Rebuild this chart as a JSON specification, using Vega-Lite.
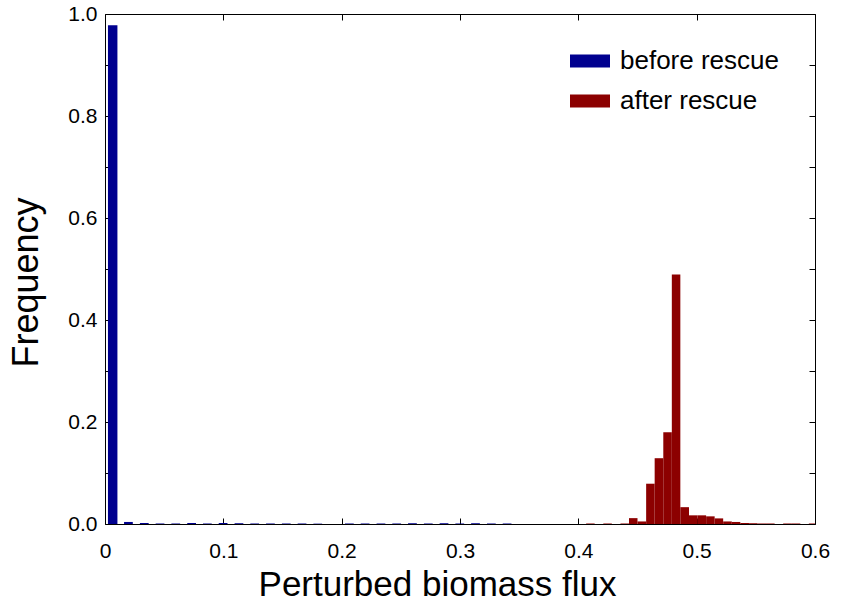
{
  "$schema": "https://vega.github.io/schema/vega-lite/v6.json",
  "autosize": {"type": "none"},
  "padding": {"left": 105, "top": 14, "right": 26, "bottom": 79},
  "width": 710,
  "height": 510,
  "background": "white",
  "config": {
    "font": "Liberation Sans",
    "view": {"stroke": "black", "strokeWidth": 1},
    "axis": {"grid": false, "domain": false, "tickColor": "black", "tickWidth": 1, "labelColor": "black", "titleColor": "black", "labelFont": "Liberation Sans", "titleFont": "Liberation Sans", "titleFontWeight": "normal"}
  },
  "data": {"values": [
    {"series": "before rescue", "bin_start": 0.0025, "bin_end": 0.0105, "freq": 0.978},
    {"series": "before rescue", "bin_start": 0.0161, "bin_end": 0.0235, "freq": 0.004},
    {"series": "before rescue", "bin_start": 0.0295, "bin_end": 0.0369, "freq": 0.002},
    {"series": "before rescue", "bin_start": 0.0428, "bin_end": 0.0502, "freq": 0.001},
    {"series": "before rescue", "bin_start": 0.0561, "bin_end": 0.0635, "freq": 0.001},
    {"series": "before rescue", "bin_start": 0.0695, "bin_end": 0.0769, "freq": 0.002},
    {"series": "before rescue", "bin_start": 0.0828, "bin_end": 0.0902, "freq": 0.001},
    {"series": "before rescue", "bin_start": 0.0961, "bin_end": 0.1035, "freq": 0.002},
    {"series": "before rescue", "bin_start": 0.1095, "bin_end": 0.1169, "freq": 0.0015},
    {"series": "before rescue", "bin_start": 0.1228, "bin_end": 0.1302, "freq": 0.001},
    {"series": "before rescue", "bin_start": 0.1361, "bin_end": 0.1435, "freq": 0.001},
    {"series": "before rescue", "bin_start": 0.1495, "bin_end": 0.1569, "freq": 0.001},
    {"series": "before rescue", "bin_start": 0.1628, "bin_end": 0.1702, "freq": 0.001},
    {"series": "before rescue", "bin_start": 0.1761, "bin_end": 0.1835, "freq": 0.0007},
    {"series": "before rescue", "bin_start": 0.2028, "bin_end": 0.2102, "freq": 0.001},
    {"series": "before rescue", "bin_start": 0.2161, "bin_end": 0.2235, "freq": 0.001},
    {"series": "before rescue", "bin_start": 0.2295, "bin_end": 0.2369, "freq": 0.001},
    {"series": "before rescue", "bin_start": 0.2428, "bin_end": 0.2502, "freq": 0.001},
    {"series": "before rescue", "bin_start": 0.2561, "bin_end": 0.2635, "freq": 0.0015},
    {"series": "before rescue", "bin_start": 0.2695, "bin_end": 0.2769, "freq": 0.001},
    {"series": "before rescue", "bin_start": 0.2828, "bin_end": 0.2902, "freq": 0.0015},
    {"series": "before rescue", "bin_start": 0.2961, "bin_end": 0.3035, "freq": 0.001},
    {"series": "before rescue", "bin_start": 0.3094, "bin_end": 0.3168, "freq": 0.0015},
    {"series": "before rescue", "bin_start": 0.3228, "bin_end": 0.3302, "freq": 0.001},
    {"series": "before rescue", "bin_start": 0.3361, "bin_end": 0.3435, "freq": 0.001},
    {"series": "after rescue", "bin_start": 0.4066, "bin_end": 0.4138, "freq": 0.001},
    {"series": "after rescue", "bin_start": 0.4211, "bin_end": 0.4283, "freq": 0.001},
    {"series": "after rescue", "bin_start": 0.4356, "bin_end": 0.4428, "freq": 0.001},
    {"series": "after rescue", "bin_start": 0.4428, "bin_end": 0.4500, "freq": 0.0115},
    {"series": "after rescue", "bin_start": 0.4500, "bin_end": 0.4573, "freq": 0.005},
    {"series": "after rescue", "bin_start": 0.4573, "bin_end": 0.4645, "freq": 0.079},
    {"series": "after rescue", "bin_start": 0.4645, "bin_end": 0.4718, "freq": 0.129},
    {"series": "after rescue", "bin_start": 0.4718, "bin_end": 0.4790, "freq": 0.18},
    {"series": "after rescue", "bin_start": 0.4790, "bin_end": 0.4862, "freq": 0.489},
    {"series": "after rescue", "bin_start": 0.4862, "bin_end": 0.4935, "freq": 0.033},
    {"series": "after rescue", "bin_start": 0.4935, "bin_end": 0.5007, "freq": 0.017},
    {"series": "after rescue", "bin_start": 0.5007, "bin_end": 0.5080, "freq": 0.017},
    {"series": "after rescue", "bin_start": 0.5080, "bin_end": 0.5152, "freq": 0.015},
    {"series": "after rescue", "bin_start": 0.5152, "bin_end": 0.5224, "freq": 0.011},
    {"series": "after rescue", "bin_start": 0.5224, "bin_end": 0.5297, "freq": 0.005},
    {"series": "after rescue", "bin_start": 0.5297, "bin_end": 0.5369, "freq": 0.004},
    {"series": "after rescue", "bin_start": 0.5369, "bin_end": 0.5442, "freq": 0.002},
    {"series": "after rescue", "bin_start": 0.5442, "bin_end": 0.5514, "freq": 0.0015},
    {"series": "after rescue", "bin_start": 0.5514, "bin_end": 0.5586, "freq": 0.001},
    {"series": "after rescue", "bin_start": 0.5586, "bin_end": 0.5659, "freq": 0.001},
    {"series": "after rescue", "bin_start": 0.5731, "bin_end": 0.5804, "freq": 0.001},
    {"series": "after rescue", "bin_start": 0.5804, "bin_end": 0.5876, "freq": 0.001},
    {"series": "after rescue", "bin_start": 0.5948, "bin_end": 0.6, "freq": 0.001}
  ]},
  "layer": [
    {
      "mark": {"type": "bar", "strokeWidth": 0},
      "encoding": {
        "x": {
          "field": "bin_start", "type": "quantitative",
          "scale": {"domain": [0, 0.6], "nice": false, "zero": false},
          "axis": {
            "orient": "bottom",
            "values": [0, 0.1, 0.2, 0.3, 0.4, 0.5, 0.6],
            "labelExpr": "datum.value == 0 ? '0' : format(datum.value, '.1f')",
            "labelFontSize": 21, "tickSize": -6, "labelPadding": 22, "labelFlush": false, "labelDx": 6,
            "title": "Perturbed biomass flux", "titleFontSize": 35,
            "titleX": 332, "titleY": 71, "titleAnchor": null, "titleAlign": "center", "titleBaseline": "alphabetic"
          }
        },
        "x2": {"field": "bin_end"},
        "y": {
          "field": "freq", "type": "quantitative", "stack": null,
          "scale": {"domain": [0, 1], "nice": false},
          "axis": {
            "orient": "left",
            "values": [0, 0.1, 0.2, 0.3, 0.4, 0.5, 0.6, 0.7, 0.8, 0.9, 1.0],
            "labelExpr": "round(datum.value * 10) % 2 == 0 ? format(datum.value, '.1f') : ''",
            "labelFontSize": 21, "tickSize": -6, "labelPadding": 14, "labelFlush": false,
            "title": "Frequency", "titleFontSize": 36,
            "titleX": -68, "titleY": 268, "titleAngle": -90, "titleAlign": "center", "titleBaseline": "alphabetic"
          }
        },
        "y2": {"datum": 0},
        "color": {
          "field": "series", "type": "nominal",
          "scale": {"domain": ["before rescue", "after rescue"], "range": ["#00008F", "#8C0000"]},
          "legend": {
            "title": null, "orient": "none", "legendX": 465, "legendY": 27,
            "symbolType": "M-1,-0.33L1,-0.33L1,0.33L-1,0.33Z", "symbolSize": 1600,
            "symbolStrokeWidth": 0, "symbolOpacity": 1,
            "labelFontSize": 26, "labelColor": "black", "labelOffset": 10, "rowPadding": 7, "padding": 0
          }
        }
      }
    },
    {
      "mark": {"type": "point", "opacity": 0},
      "encoding": {
        "x": {
          "field": "bin_start", "type": "quantitative",
          "axis": {"orient": "top", "values": [0, 0.1, 0.2, 0.3, 0.4, 0.5, 0.6], "labels": false, "tickSize": -6, "title": null}
        },
        "y": {
          "field": "freq", "type": "quantitative",
          "axis": {"orient": "right", "values": [0, 0.1, 0.2, 0.3, 0.4, 0.5, 0.6, 0.7, 0.8, 0.9, 1.0], "labels": false, "tickSize": -6, "title": null}
        }
      }
    }
  ],
  "resolve": {"axis": {"x": "independent", "y": "independent"}}
}
